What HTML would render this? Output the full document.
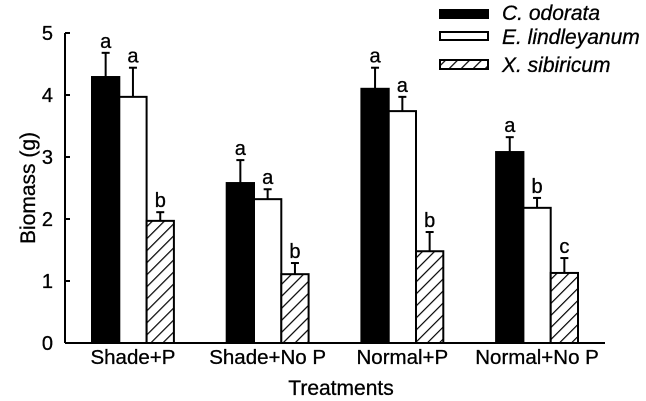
<!DOCTYPE html>
<html><head><meta charset="utf-8"><style>
body{margin:0;background:#fff}
svg{display:block;font-family:"Liberation Sans",Arial,sans-serif}
svg text{stroke:#000;stroke-width:0.3px}
</style></head><body>
<svg id="chart" width="646" height="401" viewBox="0 0 646 401">
<defs>
<pattern id="hatch" patternUnits="userSpaceOnUse" width="8.5" height="8.5" patternTransform="rotate(45)">
<rect width="8.5" height="8.5" fill="#fff"/><line x1="0" y1="0" x2="0" y2="8.5" stroke="#000" stroke-width="2.4"/>
</pattern>
</defs>
<g id="axes"></g><g id="bars"></g>
<g>
<rect x="440" y="10" width="48" height="8" fill="#000" stroke="#000" stroke-width="2"/>
<text x="502" y="20" font-size="21" font-style="italic">C. odorata</text>
<rect x="440" y="32" width="48" height="8" fill="#fff" stroke="#000" stroke-width="2"/>
<text x="502" y="44" font-size="21" font-style="italic">E. lindleyanum</text>
<rect x="440" y="60" width="48" height="9" fill="url(#hatch)" stroke="#000" stroke-width="2"/>
<text x="502" y="72" font-size="21" font-style="italic">X. sibiricum</text>
</g>
<text transform="translate(35,188) rotate(-90)" text-anchor="middle" font-size="21">Biomass (g)</text>
<text x="341" y="395" text-anchor="middle" font-size="21">Treatments</text>
</svg>
<script>
const categories=["Shade+P","Shade+No P","Normal+P","Normal+No P"];
const codorata=[4.29,2.58,4.10,3.08];
const codorataErr=[0.39,0.37,0.34,0.24];
const elind=[3.97,2.32,3.74,2.18];
const elindErr=[0.47,0.16,0.23,0.16];
const xsib=[1.97,1.11,1.48,1.13];
const xsibErr=[0.14,0.18,0.31,0.24];
const lettersC=["a","a","a","a"];
const lettersE=["a","a","a","b"];
const lettersX=["b","b","b","c"];
const yTicks=[0,1,2,3,4,5];

const NS="http://www.w3.org/2000/svg";
const X0=65,Y0=343,PX=62,GROUP0=92,GSTEP=134.7,BW=27.3;
function y(v){return Y0-v*PX;}
function gx(i){return GROUP0+i*GSTEP;}
function mk(tag,attrs,parent){const e=document.createElementNS(NS,tag);for(const k in attrs)e.setAttribute(k,attrs[k]);parent.appendChild(e);return e;}
const axes=document.getElementById('axes'),bars=document.getElementById('bars');
let a=mk('line',{x1:X0,y1:y(5),x2:X0,y2:Y0,stroke:'#000','stroke-width':2},axes);


a=mk('line',{x1:X0,y1:Y0,x2:605,y2:Y0,stroke:'#000','stroke-width':2},axes);


yTicks.forEach(t=>{
 const l=mk('line',{x1:X0,y1:y(t),x2:X0+5,y2:y(t),stroke:'#000','stroke-width':2},axes);
 
 
 const tx=mk('text',{x:X0-12,y:y(t)+7,'text-anchor':'end','font-size':20},axes);
 tx.textContent=t;
 
 
});
const series=[[codorata,codorataErr,lettersC,'#000','c-odorata'],[elind,elindErr,lettersE,'#fff','e-lindleyanum'],[xsib,xsibErr,lettersX,'url(#hatch)','x-sibiricum']];
categories.forEach((c,i)=>{
 const t=mk('text',{x:gx(i)+BW*1.5,y:364,'text-anchor':'middle','font-size':20.5},axes);
 t.textContent=c;
 
 
 series.forEach((s,j)=>{
  const v=s[0][i],e=s[1][i],x=gx(i)+j*BW,cx=x+BW/2;
  const el=mk('line',{x1:cx,y1:y(v),x2:cx,y2:y(v+e),stroke:'#000','stroke-width':2},bars);
  
  
  const cap=mk('line',{x1:cx-4,y1:y(v+e),x2:cx+4,y2:y(v+e),stroke:'#000','stroke-width':2},bars);
  
  
  const r=mk('rect',{x:x,y:y(v),width:BW,height:y(0)-y(v),fill:s[3],stroke:'#000','stroke-width':2},bars);
  
  
  const lt=mk('text',{x:cx,y:y(v+e)-5,'text-anchor':'middle','font-size':20},bars);
  lt.textContent=s[2][i];
  
  
 });
});
</script>
</body></html>
